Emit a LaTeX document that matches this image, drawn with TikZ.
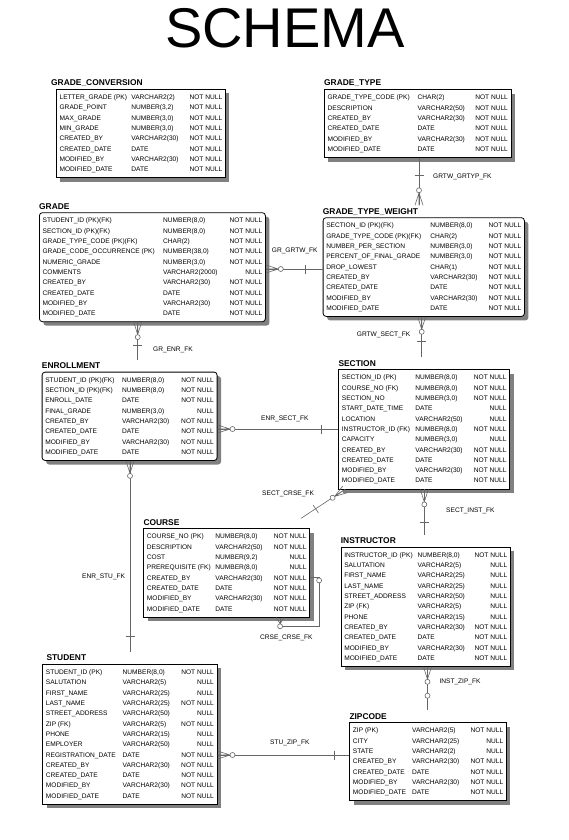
\documentclass[tikz,border=0pt]{standalone}
\usepackage{fontspec}
\setmainfont{Liberation Sans}
\usepackage{array}
\usetikzlibrary{shadows}
\newcolumntype{R}{>{\raggedleft\arraybackslash}p{34pt}}
\setlength{\tabcolsep}{0pt}

\begin{document}
\begin{tikzpicture}[x=1pt, y=-1pt,
  tbl/.style={draw, line width=0.8pt, fill=white, anchor=north west,
    inner xsep=3.2pt, inner ysep=3pt, font=\fontsize{6.6}{10.3}\selectfont,
    drop shadow={shadow xshift=4pt, shadow yshift=-4pt, fill=black!50, opacity=1}},
  tbltitle/.style={anchor=base west, inner sep=0pt, font=\fontsize{8.4}{10}\selectfont\bfseries},
  fklabel/.style={anchor=west, inner sep=0pt, font=\fontsize{6.6}{8}\selectfont},
  conn/.style={draw=black!60, line width=0.6pt},
  crowfoot/.pic={
    \draw[conn] (0,-4) -- (12.5,0) (0,0) -- (12.5,0) (0,4) -- (12.5,0);
    \draw[conn, fill=white] (15,0) circle (2.5);},
  onebar/.pic={\draw[conn] (0,-4.5) -- (0,4.5);},
  nullring/.pic={\draw[conn, fill=white] (0,0) circle (2.5);}]

  \path[use as bounding box, fill=white] (0,0) rectangle (569,840);

  % Title
  \node[anchor=base, inner sep=0pt, font=\fontsize{56}{60}\selectfont] (schema) at (285,48) {SCHEMA};

  % GRADE_CONVERSION
  \node[tbl] (gradeconv) at (56,89) {\begin{tabular}{@{}p{71.8pt}p{56.8pt}R@{}}
    LETTER\_GRADE (PK) & VARCHAR2(2) & NOT NULL\\
    GRADE\_POINT & NUMBER(3,2) & NOT NULL\\
    MAX\_GRADE & NUMBER(3,0) & NOT NULL\\
    MIN\_GRADE & NUMBER(3,0) & NOT NULL\\
    CREATED\_BY & VARCHAR2(30) & NOT NULL\\
    CREATED\_DATE & DATE & NOT NULL\\
    MODIFIED\_BY & VARCHAR2(30) & NOT NULL\\
    MODIFIED\_DATE & DATE & NOT NULL
  \end{tabular}};
  \node[tbltitle] (gradeconv-t) at ([xshift=-5pt, yshift=3.3pt]gradeconv.north west) {GRADE\_CONVERSION};

  % GRADE_TYPE
  \node[tbl] (gradetype) at (324,89.3) {\begin{tabular}{@{}p{90.1pt}p{56.2pt}R@{}}
    GRADE\_TYPE\_CODE (PK) & CHAR(2) & NOT NULL\\
    DESCRIPTION & VARCHAR2(50) & NOT NULL\\
    CREATED\_BY & VARCHAR2(30) & NOT NULL\\
    CREATED\_DATE & DATE & NOT NULL\\
    MODIFIED\_BY & VARCHAR2(30) & NOT NULL\\
    MODIFIED\_DATE & DATE & NOT NULL
  \end{tabular}};
  \node[tbltitle] (gradetype-t) at ([yshift=3.3pt]gradetype.north west) {GRADE\_TYPE};

  % GRADE
  \node[tbl, rounded corners=3pt] (grade) at (39,212.3) {\begin{tabular}{@{}p{120.5pt}p{65.1pt}R@{}}
    STUDENT\_ID (PK)(FK) & NUMBER(8,0) & NOT NULL\\
    SECTION\_ID (PK)(FK) & NUMBER(8,0) & NOT NULL\\
    GRADE\_TYPE\_CODE (PK)(FK) & CHAR(2) & NOT NULL\\
    GRADE\_CODE\_OCCURRENCE (PK) & NUMBER(38,0) & NOT NULL\\
    NUMERIC\_GRADE & NUMBER(3,0) & NOT NULL\\
    COMMENTS & VARCHAR2(2000) & NULL\\
    CREATED\_BY & VARCHAR2(30) & NOT NULL\\
    CREATED\_DATE & DATE & NOT NULL\\
    MODIFIED\_BY & VARCHAR2(30) & NOT NULL\\
    MODIFIED\_DATE & DATE & NOT NULL
  \end{tabular}};
  \node[tbltitle] (grade-t) at ([yshift=3.3pt]grade.north west) {GRADE};

  % GRADE_TYPE_WEIGHT
  \node[tbl, rounded corners=3pt] (gtw) at (322.7,217.3) {\begin{tabular}{@{}p{104.1pt}p{56.8pt}R@{}}
    SECTION\_ID (PK)(FK) & NUMBER(8,0) & NOT NULL\\
    GRADE\_TYPE\_CODE (PK)(FK) & CHAR(2) & NOT NULL\\
    NUMBER\_PER\_SECTION & NUMBER(3,0) & NOT NULL\\
    PERCENT\_OF\_FINAL\_GRADE & NUMBER(3,0) & NOT NULL\\
    DROP\_LOWEST & CHAR(1) & NOT NULL\\
    CREATED\_BY & VARCHAR2(30) & NOT NULL\\
    CREATED\_DATE & DATE & NOT NULL\\
    MODIFIED\_BY & VARCHAR2(30) & NOT NULL\\
    MODIFIED\_DATE & DATE & NOT NULL
  \end{tabular}};
  \node[tbltitle] (gtw-t) at ([yshift=3.3pt]gtw.north west) {GRADE\_TYPE\_WEIGHT};

  % ENROLLMENT
  \node[tbl, rounded corners=3pt] (enroll) at (41.7,371.7) {\begin{tabular}{@{}p{76.8pt}p{57.8pt}R@{}}
    STUDENT\_ID (PK)(FK) & NUMBER(8,0) & NOT NULL\\
    SECTION\_ID (PK)(FK) & NUMBER(8,0) & NOT NULL\\
    ENROLL\_DATE & DATE & NOT NULL\\
    FINAL\_GRADE & NUMBER(3,0) & NULL\\
    CREATED\_BY & VARCHAR2(30) & NOT NULL\\
    CREATED\_DATE & DATE & NOT NULL\\
    MODIFIED\_BY & VARCHAR2(30) & NOT NULL\\
    MODIFIED\_DATE & DATE & NOT NULL
  \end{tabular}};
  \node[tbltitle] (enroll-t) at ([yshift=3.3pt]enroll.north west) {ENROLLMENT};

  % SECTION
  \node[tbl] (section) at (338.3,369.3) {\begin{tabular}{@{}p{73.5pt}p{57.1pt}R@{}}
    SECTION\_ID (PK) & NUMBER(8,0) & NOT NULL\\
    COURSE\_NO (FK) & NUMBER(8,0) & NOT NULL\\
    SECTION\_NO & NUMBER(3,0) & NOT NULL\\
    START\_DATE\_TIME & DATE & NULL\\
    LOCATION & VARCHAR2(50) & NULL\\
    INSTRUCTOR\_ID (FK) & NUMBER(8,0) & NOT NULL\\
    CAPACITY & NUMBER(3,0) & NULL\\
    CREATED\_BY & VARCHAR2(30) & NOT NULL\\
    CREATED\_DATE & DATE & NOT NULL\\
    MODIFIED\_BY & VARCHAR2(30) & NOT NULL\\
    MODIFIED\_DATE & DATE & NOT NULL
  \end{tabular}};
  \node[tbltitle] (section-t) at ([yshift=3.3pt]section.north west) {SECTION};

  % COURSE
  \node[tbl] (course) at (143.3,528.3) {\begin{tabular}{@{}p{68.5pt}p{57.1pt}R@{}}
    COURSE\_NO (PK) & NUMBER(8,0) & NOT NULL\\
    DESCRIPTION & VARCHAR2(50) & NOT NULL\\
    COST & NUMBER(9,2) & NULL\\
    PREREQUISITE (FK) & NUMBER(8,0) & NULL\\
    CREATED\_BY & VARCHAR2(30) & NOT NULL\\
    CREATED\_DATE & DATE & NOT NULL\\
    MODIFIED\_BY & VARCHAR2(30) & NOT NULL\\
    MODIFIED\_DATE & DATE & NOT NULL
  \end{tabular}};
  \node[tbltitle] (course-t) at ([yshift=3.3pt]course.north west) {COURSE};

  % INSTRUCTOR
  \node[tbl] (instr) at (340.7,546.7) {\begin{tabular}{@{}p{73.4pt}p{55.5pt}R@{}}
    INSTRUCTOR\_ID (PK) & NUMBER(8,0) & NOT NULL\\
    SALUTATION & VARCHAR2(5) & NULL\\
    FIRST\_NAME & VARCHAR2(25) & NULL\\
    LAST\_NAME & VARCHAR2(25) & NULL\\
    STREET\_ADDRESS & VARCHAR2(50) & NULL\\
    ZIP (FK) & VARCHAR2(5) & NULL\\
    PHONE & VARCHAR2(15) & NULL\\
    CREATED\_BY & VARCHAR2(30) & NOT NULL\\
    CREATED\_DATE & DATE & NOT NULL\\
    MODIFIED\_BY & VARCHAR2(30) & NOT NULL\\
    MODIFIED\_DATE & DATE & NOT NULL
  \end{tabular}};
  \node[tbltitle] (instr-t) at ([yshift=3.3pt]instr.north west) {INSTRUCTOR};

  % STUDENT
  \node[tbl] (student) at (42.3,664) {\begin{tabular}{@{}p{76.8pt}p{57.2pt}R@{}}
    STUDENT\_ID (PK) & NUMBER(8,0) & NOT NULL\\
    SALUTATION & VARCHAR2(5) & NULL\\
    FIRST\_NAME & VARCHAR2(25) & NULL\\
    LAST\_NAME & VARCHAR2(25) & NOT NULL\\
    STREET\_ADDRESS & VARCHAR2(50) & NULL\\
    ZIP (FK) & VARCHAR2(5) & NOT NULL\\
    PHONE & VARCHAR2(15) & NULL\\
    EMPLOYER & VARCHAR2(50) & NULL\\
    REGISTRATION\_DATE & DATE & NOT NULL\\
    CREATED\_BY & VARCHAR2(30) & NOT NULL\\
    CREATED\_DATE & DATE & NOT NULL\\
    MODIFIED\_BY & VARCHAR2(30) & NOT NULL\\
    MODIFIED\_DATE & DATE & NOT NULL
  \end{tabular}};
  \node[tbltitle] (student-t) at ([xshift=4pt, yshift=3.3pt]student.north west) {STUDENT};

  % ZIPCODE
  \node[tbl] (zip) at (349.3,722.3) {\begin{tabular}{@{}p{59.2pt}p{57.1pt}R@{}}
    ZIP (PK) & VARCHAR2(5) & NOT NULL\\
    CITY & VARCHAR2(25) & NULL\\
    STATE & VARCHAR2(2) & NULL\\
    CREATED\_BY & VARCHAR2(30) & NOT NULL\\
    CREATED\_DATE & DATE & NOT NULL\\
    MODIFIED\_BY & VARCHAR2(30) & NOT NULL\\
    MODIFIED\_DATE & DATE & NOT NULL
  \end{tabular}};
  \node[tbltitle] (zip-t) at ([yshift=3.3pt]zip.north west) {ZIPCODE};

  % Relationships
  \draw[conn] ([xshift=95pt]gradetype.south west) -- ([xshift=96.3pt, yshift=12pt]gtw.north west);
  \draw[conn] ([yshift=-56.7pt]grade.north east) -- ([yshift=-51.7pt]gtw.north west);
  \draw[conn] ([xshift=99pt]gtw.south west) -- ([xshift=83.4pt, yshift=12pt]section.north west);
  \draw[conn] ([xshift=98.7pt]grade.south west) -- ([xshift=96pt, yshift=12pt]enroll.north west);
  \draw[conn] ([yshift=-57.3pt]enroll.north east) -- ([yshift=-59.7pt]section.north west);
  \draw[conn] ([xshift=88.3pt]enroll.south west) -- ([xshift=87.7pt, yshift=12pt]student.north west);
  \draw[conn] ([xshift=6.7pt]section.south west) -- ([xshift=-9pt, yshift=10pt]course.north east);
  \draw[conn] ([xshift=86pt]section.south west) -- ([xshift=83.6pt, yshift=12pt]instr.north west);
  \draw[conn] ([xshift=-30pt]course.south east) |- ([xshift=9pt, yshift=-53pt]course.east)
    |- ([yshift=-4.5pt]course.east);
  \draw[conn] ([xshift=86.8pt]instr.south west) -- ([xshift=78.2pt, yshift=12pt]zip.north west);
  \draw[conn] ([yshift=-91pt]student.north east) -- ([yshift=-32.7pt]zip.north west);

  % Crow's feet, bars and rings
  \pic[rotate=90] at ([xshift=96.3pt, yshift=12pt]gtw.north west) {crowfoot};
  \pic[rotate=90] at ([xshift=95pt, yshift=-17.3pt]gradetype.south west) {onebar};
  \pic at ([yshift=-56.7pt]grade.north east) {crowfoot};
  \pic at ([xshift=-17pt, yshift=-51.7pt]gtw.north west) {onebar};
  \pic[rotate=-90] at ([xshift=99pt]gtw.south west) {crowfoot};
  \pic[rotate=90] at ([xshift=83.4pt, yshift=27.6pt]section.north west) {onebar};
  \pic[rotate=-90] at ([xshift=98.7pt]grade.south west) {crowfoot};
  \pic[rotate=90] at ([xshift=96pt, yshift=26pt]enroll.north west) {onebar};
  \pic at ([yshift=-57.3pt]enroll.north east) {crowfoot};
  \pic at ([xshift=-16.6pt, yshift=-59.7pt]section.north west) {onebar};
  \pic[rotate=-90] at ([xshift=88.3pt]enroll.south west) {crowfoot};
  \pic[rotate=90] at ([xshift=87.7pt, yshift=27.3pt]student.north west) {onebar};
  \pic[rotate=214] at ([xshift=6.7pt]section.south west) {crowfoot};
  \pic[rotate=214] at ([xshift=5.7pt, yshift=19.3pt]course.north east) {onebar};
  \pic[rotate=-90] at ([xshift=86pt]section.south west) {crowfoot};
  \pic[rotate=90] at ([xshift=83.6pt, yshift=24.7pt]instr.north west) {onebar};
  \draw[conn] ([xshift=-34pt]course.south east) -- ([xshift=-30pt, yshift=-6.3pt]course.south east)
    -- ([xshift=-26pt]course.south east)
    ([xshift=-30pt]course.south east) -- ([xshift=-30pt, yshift=-6.3pt]course.south east);
  \pic at ([xshift=-30pt, yshift=-8.8pt]course.south east) {nullring};
  \pic at ([xshift=9pt, yshift=-7.5pt]course.east) {nullring};
  \pic[rotate=-90] at ([xshift=86.8pt]instr.south west) {crowfoot};
  \pic at ([xshift=78.2pt, yshift=26.6pt]zip.north west) {nullring};
  \pic at ([yshift=-91pt]student.north east) {crowfoot};
  \pic at ([xshift=-15.3pt, yshift=-32.7pt]zip.north west) {onebar};

  % Relationship names
  \node[fklabel] (grtw-grtyp) at (433,177.3) {GRTW\_GRTYP\_FK};
  \node[fklabel] (gr-grtw) at (271.7,251) {GR\_GRTW\_FK};
  \node[fklabel] (grtw-sect) at (356.7,335) {GRTW\_SECT\_FK};
  \node[fklabel] (gr-enr) at (153,350) {GR\_ENR\_FK};
  \node[fklabel] (enr-sect) at (261,419) {ENR\_SECT\_FK};
  \node[fklabel] (sect-crse) at (262,494) {SECT\_CRSE\_FK};
  \node[fklabel] (sect-inst) at (446,511) {SECT\_INST\_FK};
  \node[fklabel] (enr-stu) at (82,577) {ENR\_STU\_FK};
  \node[fklabel] (crse-crse) at (260,638) {CRSE\_CRSE\_FK};
  \node[fklabel] (inst-zip) at (439.3,681.7) {INST\_ZIP\_FK};
  \node[fklabel] (stu-zip) at (270,743.3) {STU\_ZIP\_FK};
\end{tikzpicture}
\end{document}
